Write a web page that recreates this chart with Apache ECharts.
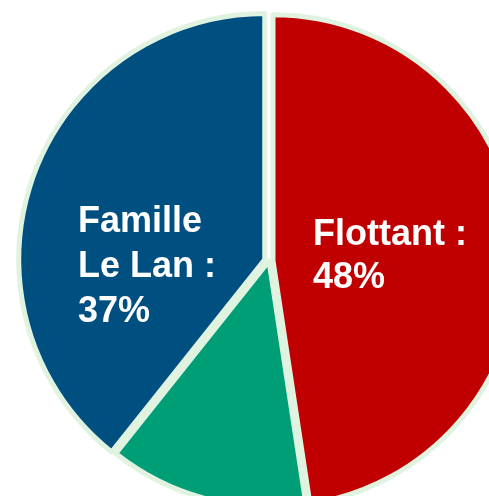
<!DOCTYPE html>
<html>
<head>
<meta charset="utf-8">
<script src="https://cdn.jsdelivr.net/npm/echarts@6/dist/echarts.min.js"></script>
<style>
html, body { margin: 0; padding: 0; background: #fff; }
#chart { width: 489px; height: 496px; }
</style>
</head>
<body>
<div id="chart"></div>
<script>
var names = ['Flottant', 'Autres', 'Famille Le Lan'];
var values = [47.6, 13.1, 39.3];
var colors = ['#c00000', '#009e77', '#004f81'];
var labelTexts = ['Flottant :\n48%', '', 'Famille\nLe Lan :\n37%'];
var explode = [4, 0, 4.5];

var cx = 269, cy = 261, r = 246;
var chart = echarts.init(document.getElementById('chart'));

var total = values.reduce(function (a, b) { return a + b; }, 0);
var series = [];
var acc = 0;
names.forEach(function (n, i) {
    // mid angle of this slice, clockwise from 12 o'clock
    var mid = (acc + values[i] / 2) / total * 2 * Math.PI;
    acc += values[i];
    var ox = explode[i] * Math.sin(mid);
    var oy = -explode[i] * Math.cos(mid);
    series.push({
        type: 'pie',
        silent: true,
        center: [cx + ox, cy + oy],
        radius: [0, r],
        startAngle: 90,
        label: {
            position: 'inside',
            color: '#fff',
            fontFamily: 'Arial, "Liberation Sans", sans-serif',
            fontWeight: 'bold',
            fontSize: 36,
            lineHeight: i === 0 ? 43 : 45,
            align: 'left',
            formatter: function () { return labelTexts[i]; }
        },
        labelLine: { show: false },
        labelLayout: function (p) {
            if (i === 0) return { x: 313, y: 256.5, align: 'left', verticalAlign: 'middle' };
            if (i === 2) return { x: 78, y: 267, align: 'left', verticalAlign: 'middle' };
            return {};
        },
        emphasis: { disabled: true },
        data: names.map(function (m, j) {
            var own = j === i;
            return {
                name: m,
                value: values[j],
                itemStyle: own
                    ? { color: colors[j], borderColor: '#e0f3e0', borderWidth: 5 }
                    : { color: 'transparent', borderWidth: 0 },
                label: { show: own && labelTexts[j] !== '' }
            };
        })
    });
});

chart.setOption({
    animation: false,
    backgroundColor: '#fff',
    series: series
});
</script>
</body>
</html>
